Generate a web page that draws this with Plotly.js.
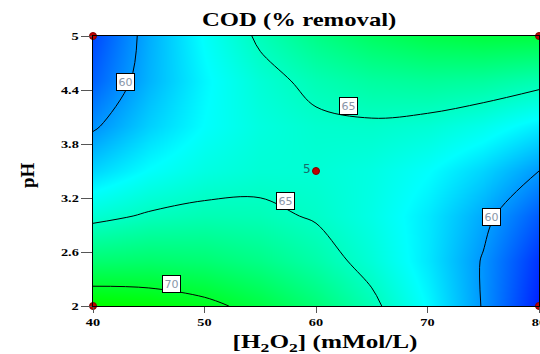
<!DOCTYPE html>
<html>
<head>
<meta charset="utf-8">
<script src="https://cdn.plot.ly/plotly-3.0.1.min.js"></script>
<style>html,body{margin:0;padding:0;background:#fff;}#chart{width:540px;height:354px;}</style>
</head>
<body>
<div id="chart"></div>
<script>
// H2O2 concentration (mMol/L) grid
var h2o2 = [40, 45, 50, 55, 60, 65, 70, 75, 80];
// pH grid
var ph = [2, 2.5, 3, 3.5, 4, 4.5, 5];
// COD % removal (rows = pH, cols = H2O2)
var codRemoval = [
  [71.74, 71.36, 70.55, 69.29, 67.60, 65.46, 62.89, 59.87, 56.42],
  [67.78, 67.97, 67.72, 67.02, 65.89, 64.32, 62.31, 59.86, 56.97],
  [64.46, 65.21, 65.53, 65.40, 64.83, 63.82, 62.38, 60.49, 58.16],
  [61.79, 63.10, 63.98, 64.41, 64.41, 63.97, 63.08, 61.76, 60.00],
  [59.75, 61.63, 63.07, 64.07, 64.63, 64.75, 64.44, 63.68, 62.48],
  [58.36, 60.81, 62.81, 64.38, 65.50, 66.18, 66.43, 66.23, 65.60],
  [57.62, 60.62, 63.19, 65.32, 67.01, 68.26, 69.07, 69.43, 69.36]
];
// design points
var ptX = [40, 40, 80, 80, 60];
var ptY = [2, 5, 5, 2, 3.5];
// contour labels
var lblText = ["60", "65", "65", "70", "60"];
var lblX = [42.9, 62.9, 57.3, 47.0, 75.7];
var lblY = [4.49, 4.22, 3.17, 2.24, 2.99];
var xTicks = [40, 50, 60, 70, 80];
var yTicks = [2, 2.6, 3.2, 3.8, 4.4, 5];

var serif = "Liberation Serif, Times New Roman, serif";

var contour = {
  type: 'contour',
  x: h2o2, y: ph, z: codRemoval,
  zmin: 55.5, zmax: 71.5,
  colorscale: [[0, 'rgb(0,0,255)'], [0.47, 'rgb(0,255,255)'], [1, 'rgb(0,255,0)']],
  showscale: false,
  contours: {start: 60, end: 70, size: 5, coloring: 'heatmap', showlines: true},
  line: {color: '#000', width: 1, smoothing: 1},
  hoverinfo: 'skip'
};
var pts = {
  type: 'scatter', mode: 'markers',
  x: ptX, y: ptY,
  marker: {color: '#c00000', size: 7, line: {color: '#800000', width: 1}},
  cliponaxis: false, hoverinfo: 'skip'
};

var annotations = lblText.map(function (t, i) {
  return {x: lblX[i], y: lblY[i], text: t, showarrow: false,
    font: {family: 'DejaVu Sans, sans-serif', size: 11, color: '#8a96a8'},
    bgcolor: '#fff', bordercolor: '#000', borderwidth: 1, borderpad: 1.5};
});
annotations.push({x: 60, y: 3.5, text: '5', showarrow: false, xanchor: 'right', xshift: -3, yshift: 2,
  font: {family: 'DejaVu Sans, sans-serif', size: 12, color: '#1a6a6a'}});
annotations.push({xref: 'paper', yref: 'paper', x: -0.148, y: 0.5, xanchor: 'center', yanchor: 'middle',
  yshift: -4, textangle: -90, text: 'pH', showarrow: false,
  font: {family: serif, size: 19, color: '#000', weight: 'bold'}});
annotations.push({xref: 'paper', yref: 'paper', x: 0.521, y: -0.14, xanchor: 'center', yanchor: 'middle',
  text: '[H<sub>2</sub>O<sub>2</sub>] (mMol/L)', showarrow: false,
  font: {family: serif, size: 18, color: '#000', weight: 'bold'}});

var layout = {
  width: 540, height: 354,
  margin: {l: 93, r: 1, t: 36, b: 48},
  paper_bgcolor: '#fff', plot_bgcolor: '#fff',
  showlegend: false,
  title: {text: 'COD (% removal)', font: {family: serif, size: 19, color: '#000', weight: 'bold'},
    x: 0.554, xanchor: 'center', y: 0.946, yanchor: 'middle'},
  xaxis: {
    range: [40, 80], tickvals: xTicks, ticktext: xTicks.map(String),
    ticks: 'outside', ticklen: 6, tickcolor: '#555', tickwidth: 1, ticklabeloverflow: 'allow',
    showline: true, linecolor: '#000', linewidth: 1, mirror: true, showgrid: false, zeroline: false,
    tickfont: {family: serif, size: 11, color: '#000', weight: 'bold'}
  },
  yaxis: {
    range: [2, 5], tickvals: yTicks, ticktext: yTicks.map(String),
    ticks: 'outside', ticklen: 11, tickcolor: '#555', tickwidth: 1, ticklabeloverflow: 'allow',
    showline: true, linecolor: '#000', linewidth: 1, mirror: true, showgrid: false, zeroline: false,
    tickfont: {family: serif, size: 11, color: '#000', weight: 'bold'}
  },
  annotations: annotations
};
function stretch(el, f) {
  var w = el.getComputedTextLength();
  if (w > 0) {
    el.setAttribute('textLength', (w * f).toFixed(1));
    el.setAttribute('lengthAdjust', 'spacingAndGlyphs');
  }
}
Plotly.newPlot('chart', [contour, pts], layout, {displayModeBar: false, staticPlot: true}).then(function (gd) {
  // the reference typography is horizontally widened; stretch the serif texts to match
  gd.querySelectorAll('.gtitle, .xtick text, .ytick text').forEach(function (el) { stretch(el, 1.3); });
  var ann = gd.querySelectorAll('.annotation-text');
  var last = ann[ann.length - 1];
  if (last) stretch(last, 1.4);
});
</script>
</body>
</html>
